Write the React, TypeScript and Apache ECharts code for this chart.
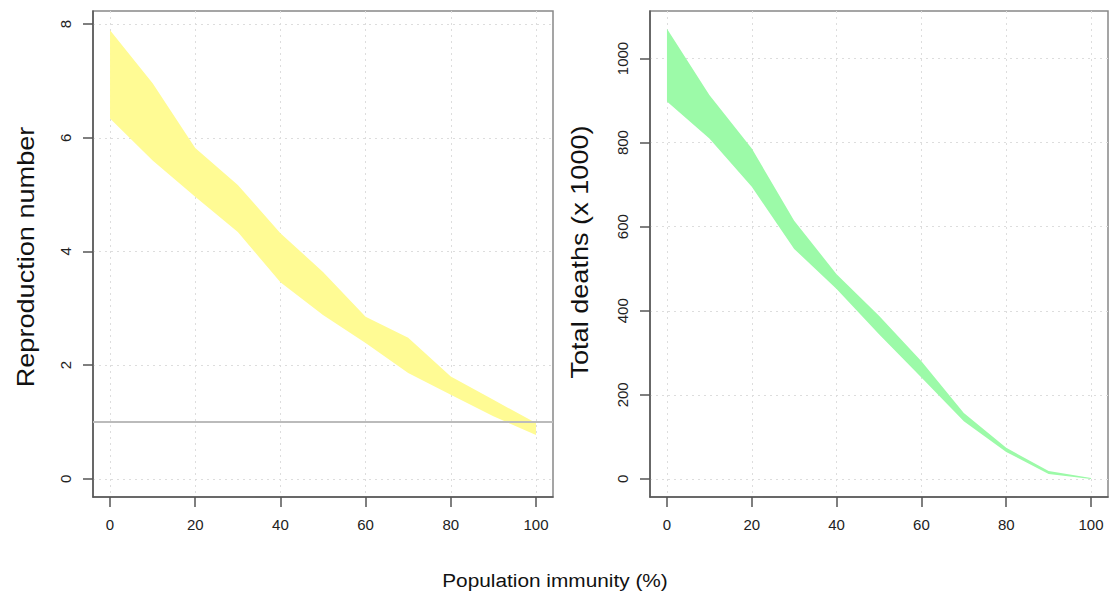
import React, { useEffect, useRef } from "react";
import * as echarts from "echarts";

const immunity = [0, 10, 20, 30, 40, 50, 60, 70, 80, 90, 100];
const rUpper = [7.89, 6.96, 5.82, 5.17, 4.32, 3.64, 2.85, 2.48, 1.8, 1.39, 0.98];
const rLower = [6.34, 5.6, 4.96, 4.34, 3.46, 2.88, 2.39, 1.86, 1.48, 1.1, 0.77];
const dUpper = [1071, 913, 786, 614, 487, 388, 280, 157, 74, 19, 2];
const dLower = [898, 810, 695, 547, 452, 344, 241, 137, 64, 12, 0];
const xTicks = [0, 20, 40, 60, 80, 100];
const rTicks = [0, 2, 4, 6, 8];
const dTicks = [0, 200, 400, 600, 800, 1000];
const threshold = 1;

const FONT = "Liberation Sans, Arial, Helvetica, sans-serif";

function xAxisFor(gridIndex: number) {
  return {
    type: "value",
    gridIndex,
    min: -4,
    max: 104,
    axisLine: { show: true, onZero: false, lineStyle: { color: "#555", width: 1.5 } },
    axisTick: { show: true, length: 10, customValues: xTicks, lineStyle: { color: "#555", width: 1.5 } },
    axisLabel: { customValues: xTicks, color: "#222", fontSize: 15, fontFamily: FONT, margin: 20 },
    splitLine: { show: true, lineStyle: { color: "#ddd", type: [2, 4], width: 1 } },
  };
}

function yAxisFor(gridIndex: number, min: number, max: number, ticks: number[], margin: number) {
  return {
    type: "value",
    gridIndex,
    min,
    max,
    axisLine: { show: true, onZero: false, lineStyle: { color: "#555", width: 1.5 } },
    axisTick: { show: true, length: 10, customValues: ticks, lineStyle: { color: "#555", width: 1.5 } },
    axisLabel: {
      customValues: ticks,
      color: "#222",
      fontSize: 15,
      fontFamily: FONT,
      rotate: 90,
      margin,
      formatter: (v: number) => String(v),
    },
    splitLine: { show: true, lineStyle: { color: "#ddd", type: [2, 4], width: 1 } },
  };
}

function band(idx: number, upper: number[], lower: number[], color: string, extra: any = {}) {
  return {
    type: "custom",
    xAxisIndex: idx,
    yAxisIndex: idx,
    silent: true,
    data: immunity.map((x, i) => [x, lower[i], upper[i]]),
    encode: { x: 0, y: [1, 2] },
    renderItem: (params: any, api: any) => {
      if (params.dataIndex !== 0) return null;
      const top = immunity.map((x, i) => api.coord([x, upper[i]]));
      const bottom = immunity.map((x, i) => api.coord([x, lower[i]])).reverse();
      return {
        type: "polygon",
        shape: { points: top.concat(bottom) },
        style: { fill: color, stroke: "none" },
      };
    },
    ...extra,
  };
}

export default function App() {
  const ref = useRef<HTMLDivElement>(null);
  useEffect(() => {
    const chart = echarts.init(ref.current!, null, { renderer: "svg" });
    chart.setOption({
      animation: false,
      backgroundColor: "#fff",
      grid: [
        { left: 93, top: 11, width: 460, height: 486, show: true, borderColor: "#888", borderWidth: 1.5, backgroundColor: "transparent" },
        { left: 650, top: 11, width: 458, height: 486, show: true, borderColor: "#888", borderWidth: 1.5, backgroundColor: "transparent" },
      ],
      xAxis: [xAxisFor(0), xAxisFor(1)],
      yAxis: [yAxisFor(0, -0.32, 8.23, rTicks, 20), yAxisFor(1, -43, 1113, dTicks, 20)],
      series: [
        band(0, rUpper, rLower, "#fffb94"),
        {
          type: "line",
          xAxisIndex: 0,
          yAxisIndex: 0,
          data: [],
          silent: true,
          markLine: {
            silent: true,
            symbol: "none",
            label: { show: false },
            lineStyle: { color: "#bbb", width: 2, type: "solid" },
            data: [{ yAxis: threshold }],
          },
        },
        band(1, dUpper, dLower, "#9cfaa8"),
      ],
      graphic: [
        {
          type: "text",
          x: 26,
          y: 257,
          rotation: Math.PI / 2,
          scaleX: 1.13,
          style: { text: "Reproduction number", font: `24px ${FONT}`, fill: "#111", align: "center", verticalAlign: "middle" },
        },
        {
          type: "text",
          x: 580,
          y: 252,
          rotation: Math.PI / 2,
          scaleX: 1.13,
          style: { text: "Total deaths (x 1000)", font: `24px ${FONT}`, fill: "#111", align: "center", verticalAlign: "middle" },
        },
        {
          type: "text",
          x: 555,
          y: 580,
          scaleX: 1.12,
          style: { text: "Population immunity (%)", font: `18.6px ${FONT}`, fill: "#111", align: "center", verticalAlign: "middle" },
        },
      ],
    });
    return () => chart.dispose();
  }, []);
  return <div ref={ref} style={{ position: "fixed", left: 0, top: 0, width: 1112, height: 597 }} />;
}
